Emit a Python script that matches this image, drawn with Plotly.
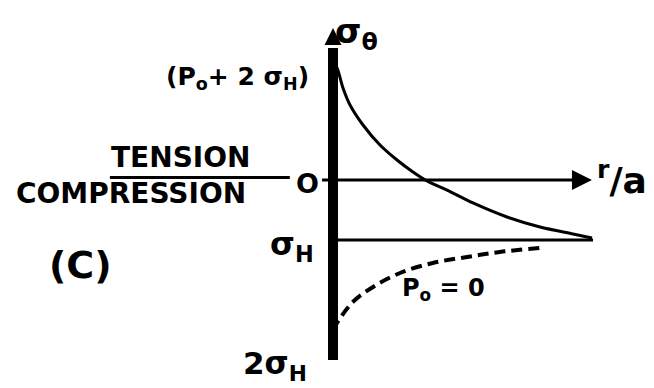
import plotly.graph_objects as go

# r/a (1 = hole wall) and sigma_theta in units of sigma_H
r_solid = [1.0, 1.077, 1.192, 1.327, 1.577, 1.904, 2.231, 2.538, 2.808,
           3.192, 3.692, 4.346, 4.981, 5.615, 5.981]
s_solid = [1.95, 1.867, 1.533, 1.25, 0.917, 0.583, 0.333, 0.133, -0.017,
           -0.167, -0.383, -0.617, -0.783, -0.9, -0.967]

r_dash = [1.0, 1.077, 1.38, 1.77, 2.29, 2.92, 3.58, 4.21, 4.98]
s_dash = [-2.5, -2.383, -2.033, -1.783, -1.55, -1.383, -1.283, -1.2, -1.133]

r_sigh = [1.0, 6.0]
s_sigh = [-1.0, -1.0]

# axes of the sketch
v_axis_r = [1.0, 1.0]
v_axis_s = [-3.0, 2.2]
v_tip = 2.533
h_axis_r = [0.79, 5.6]
h_axis_s = [0.0, 0.0]
h_tip = 5.98
under_r = [-3.29, 0.17]
under_s = [0.042, 0.042]

font = dict(family="DejaVu Sans", color="black", size=26, weight="bold")

fig = go.Figure()

fig.add_trace(go.Scatter(x=v_axis_r, y=v_axis_s, mode='lines',
                         line=dict(color='black', width=10)))
fig.add_trace(go.Scatter(x=[1.0], y=[v_tip], mode='markers',
                         marker=dict(symbol='arrow-up', size=17, color='black')))
fig.add_trace(go.Scatter(x=h_axis_r, y=h_axis_s, mode='lines',
                         line=dict(color='black', width=3)))
fig.add_trace(go.Scatter(x=[h_tip], y=[0.0], mode='markers',
                         marker=dict(symbol='arrow-right', size=20, color='black')))
fig.add_trace(go.Scatter(x=under_r, y=under_s, mode='lines',
                         line=dict(color='black', width=3)))
fig.add_trace(go.Scatter(x=r_sigh, y=s_sigh, mode='lines',
                         line=dict(color='black', width=3)))
fig.add_trace(go.Scatter(x=r_solid, y=s_solid, mode='lines',
                         line=dict(color='black', width=3, shape='spline', smoothing=0.8)))
fig.add_trace(go.Scatter(x=r_dash, y=s_dash, mode='lines',
                         line=dict(color='black', width=4, shape='spline', dash='11px,6px')))

labels = [
    (1.46, 2.44, "σ<sub>θ</sub>", 34),
    (-0.83, 1.70, "(P<sub>o</sub>+ 2 σ<sub>H</sub>)", 25),
    (-1.94, 0.383, "TENSION", 28),
    (0.5, -0.05, "O", 27),
    (-2.88, -0.217, "COMPRESSION", 28),
    (0.21, -1.10, "σ<sub>H</sub>", 32),
    (-3.85, -1.417, "(C)", 38),
    (6.56, 0.03, "<sup>r</sup>/a", 36),
    (3.13, -1.82, "P<sub>o</sub> = 0", 24),
    (-0.12, -3.09, "2σ<sub>H</sub>", 31),
]
for x, y, t, s in labels:
    fig.add_annotation(x=x, y=y, text=t, showarrow=False,
                       xanchor='center', yanchor='middle',
                       font=dict(font, size=s))

# the page body adds an 8px margin, so the figure covers reference pixels 8..654 / 8..388
fig.update_xaxes(visible=False, range=[-5.25, 7.173])
fig.update_yaxes(visible=False, range=[-3.467, 2.867])
fig.update_layout(width=646, height=380, showlegend=False,
                  margin=dict(l=0, r=0, t=0, b=0),
                  paper_bgcolor='white', plot_bgcolor='white')

fig.write_html("out.html")
